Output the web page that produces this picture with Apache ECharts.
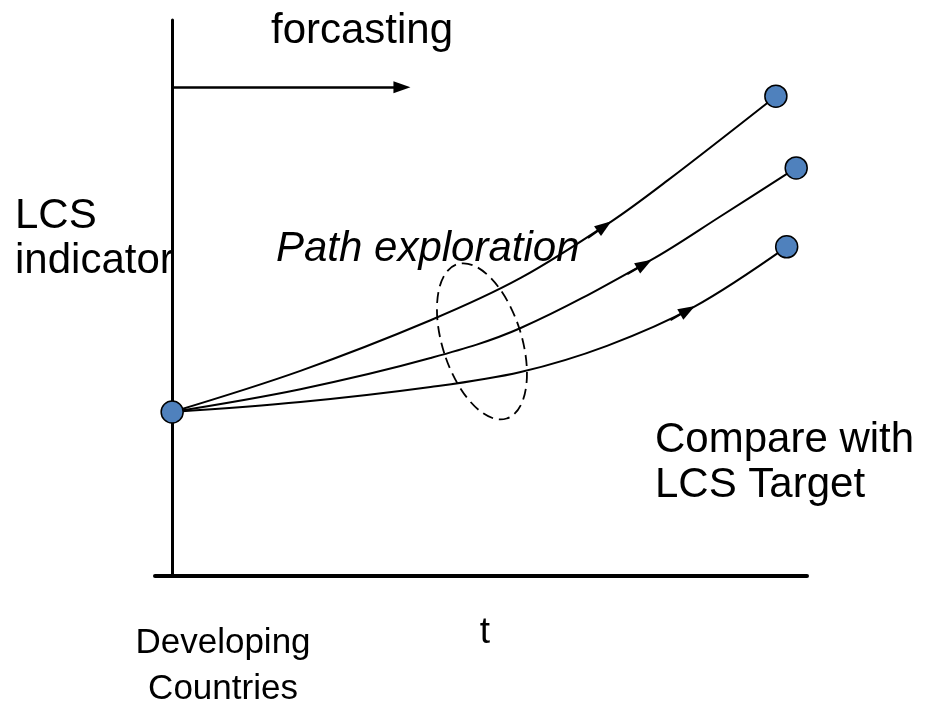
<!DOCTYPE html>
<html>
<head>
<meta charset="utf-8">
<script src="https://cdn.jsdelivr.net/npm/echarts@6/dist/echarts.min.js"></script>
<style>
  html, body { margin: 0; padding: 0; background: #fff; }
  #chart { width: 925px; height: 707px; }
</style>
</head>
<body>
<div id="chart"></div>
<script>
// paths start from today's level (developing countries) and end at 3 targets
var startPoint = [0, 2.95];
var pathHigh = [[0, 2.95], [2.02, 3.69], [4.07, 4.60], [5.49, 5.36], [6.91, 6.37], [7.81, 7.12], [9.51, 8.63]];
var pathMid  = [[0, 2.95], [2.02, 3.36], [4.07, 3.92], [5.49, 4.46], [7.54, 5.68], [8.64, 6.47], [9.83, 7.34]];
var pathLow  = [[0, 2.95], [2.02, 3.13], [4.07, 3.40], [5.49, 3.67], [6.85, 4.14], [8.22, 4.84], [9.68, 5.92]];

// arrow heads on each path: [from, to]
var arrowHigh = [[6.55, 6.08], [6.81, 6.29]];
var arrowMid  = [[7.17, 5.43], [7.44, 5.61]];
var arrowLow  = [[7.85, 4.60], [8.12, 4.78]];
// "forcasting" arrow
var forecastArrow = [[0, 8.79], [3.62, 8.79]];

// dashed ellipse round the paths
var ellipseCenter = [4.88, 4.22];

var endPoints = [startPoint, pathHigh[pathHigh.length - 1], pathMid[pathMid.length - 1], pathLow[pathLow.length - 1]];

var FONT = '"Liberation Sans", Arial, sans-serif';

var chart = echarts.init(document.getElementById('chart'));

function pathSeries(data, arrow, extra) {
  var lines = [[{ coord: arrow[0] }, { coord: arrow[1] }]];
  if (extra) lines.push(extra);
  return {
    type: 'line',
    data: data,
    smooth: 0.35,
    showSymbol: false,
    symbol: 'none',
    silent: true,
    lineStyle: { color: '#000', width: 2 },
    markLine: {
      silent: true,
      animation: false,
      symbol: ['none', 'triangle'],
      symbolSize: [12, 17],
      itemStyle: { color: '#000' },
      lineStyle: { color: '#000', width: 2, type: 'solid' },
      label: { show: false },
      data: lines
    }
  };
}

function txt(text, x, y, opts) {
  opts = opts || {};
  return {
    type: 'text',
    x: x,
    y: y,
    silent: true,
    style: {
      text: text,
      fill: '#000',
      fontSize: opts.size || 42,
      fontFamily: FONT,
      fontStyle: opts.italic ? 'italic' : 'normal',
      align: opts.align || 'left',
      verticalAlign: 'middle'
    }
  };
}

chart.setOption({
  animation: false,
  grid: { left: 155, right: 118, top: 20, bottom: 131 },
  xAxis: {
    type: 'value',
    min: -0.27,
    max: 10,
    name: 't',
    nameLocation: 'middle',
    nameGap: 38,
    nameTextStyle: { fontSize: 37, fontFamily: FONT, color: '#000', padding: [0, 0, 0, 8] },
    axisLine: { lineStyle: { color: '#000', width: 4 } },
    axisTick: { show: false },
    axisLabel: { show: false },
    splitLine: { show: false }
  },
  yAxis: {
    type: 'value',
    min: 0,
    max: 10,
    axisLine: { show: true, onZero: true, lineStyle: { color: '#000', width: 3 } },
    axisTick: { show: false },
    axisLabel: { show: false },
    splitLine: { show: false }
  },
  series: [
    pathSeries(pathHigh, arrowHigh, [
      { coord: forecastArrow[0], lineStyle: { width: 2.5 } },
      { coord: forecastArrow[1] }
    ]),
    pathSeries(pathMid, arrowMid),
    pathSeries(pathLow, arrowLow),
    {
      type: 'scatter',
      data: endPoints,
      symbol: 'circle',
      symbolSize: 22,
      z: 5,
      silent: true,
      itemStyle: { color: '#4F81BD', borderColor: '#000', borderWidth: 1.5, opacity: 1 }
    }
  ]
});

var c = chart.convertToPixel({ gridIndex: 0 }, ellipseCenter);

chart.setOption({
  graphic: [
    {
      type: 'ellipse',
      x: c[0],
      y: c[1],
      rotation: 0.31,
      silent: true,
      shape: { cx: 0, cy: 0, rx: 39.5, ry: 81 },
      style: { fill: 'none', stroke: '#000', lineWidth: 1.8, lineDash: [11, 6] }
    },
    txt('forcasting', 271, 31),
    txt('LCS', 15, 216),
    txt('indicator', 15, 261),
    txt('Path exploration', 276, 249, { italic: true }),
    txt('Compare with', 655, 440),
    txt('LCS Target', 655, 485),
    txt('Developing', 223, 643, { align: 'center', size: 35 }),
    txt('Countries', 223, 689, { align: 'center', size: 35 })
  ]
});
</script>
</body>
</html>
